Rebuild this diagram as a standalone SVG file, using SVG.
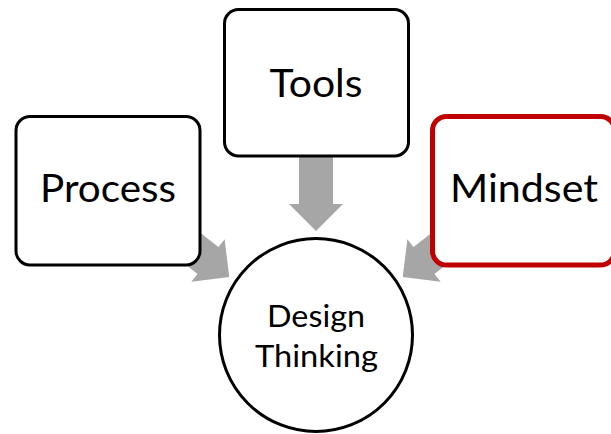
<svg xmlns="http://www.w3.org/2000/svg" xmlns:xlink="http://www.w3.org/1999/xlink" width="611" height="434" viewBox="0 0 611 434">
  <style>
    .box { fill: #ffffff; stroke: #000000; stroke-width: 3; }
    .box.accent { stroke: #C00000; stroke-width: 5; }
    .hub { fill: #ffffff; stroke: #000000; stroke-width: 3; }
    .arrow { fill: #A6A6A6; }
    .label { font-family: Lato, "Open Sans", "Liberation Sans", sans-serif; fill: #000000; text-anchor: middle; }
    .big { font-size: 39px; }
    .small { font-size: 30.5px; }
  </style>
  <defs>
    <!-- block arrow pointing along +x, tip at (27,0), head base at x=0 -->
    <path id="blockArrow" d="M -50 -17 L 0 -17 L 0 -27 L 27 0 L 0 27 L 0 17 L -50 17 Z"/>
  </defs>

  <g id="connectors">
    <use xlink:href="#blockArrow" class="arrow" transform="translate(316 204) rotate(90)"/>
    <use xlink:href="#blockArrow" class="arrow" transform="translate(208 260.5) rotate(38)"/>
    <use xlink:href="#blockArrow" class="arrow" transform="translate(424 260.5) rotate(142)"/>
  </g>

  <g id="node-tools">
    <rect class="box" x="224.5" y="9.5" width="184" height="146.5" rx="14" ry="14"/>
    <text class="label big" x="316" y="97" textLength="93" lengthAdjust="spacingAndGlyphs">Tools</text>
  </g>

  <g id="node-process">
    <rect class="box" x="16" y="116.5" width="184" height="148.5" rx="14" ry="14"/>
    <text class="label big" x="108" y="202" textLength="136" lengthAdjust="spacingAndGlyphs">Process</text>
  </g>

  <g id="node-mindset">
    <rect class="box accent" x="432.5" y="116.5" width="182" height="148.5" rx="14" ry="14"/>
    <text class="label big" x="524" y="202" textLength="148" lengthAdjust="spacingAndGlyphs">Mindset</text>
  </g>

  <g id="node-design-thinking">
    <circle class="hub" cx="316" cy="335" r="96.5"/>
    <text class="label small" x="316" y="327" textLength="98" lengthAdjust="spacingAndGlyphs">Design</text>
    <text class="label small" x="316.5" y="367" textLength="123" lengthAdjust="spacingAndGlyphs">Thinking</text>
  </g>
</svg>
